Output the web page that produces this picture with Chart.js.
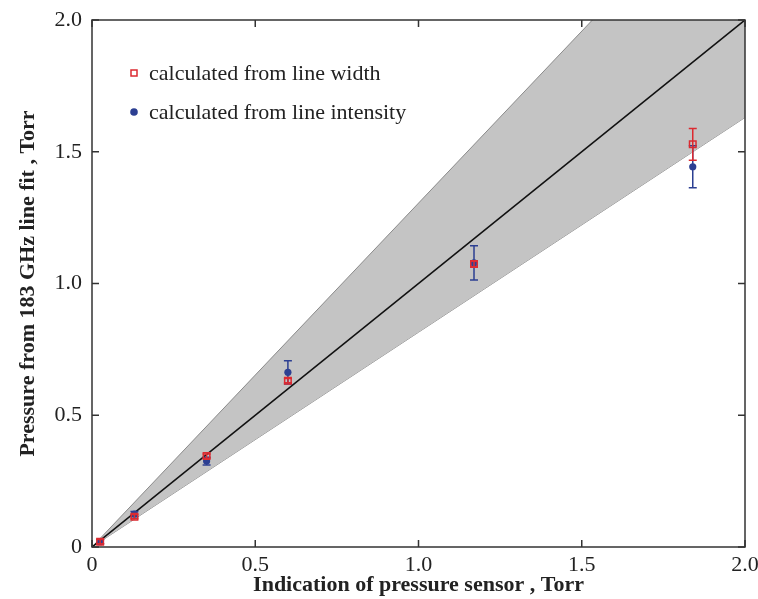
<!DOCTYPE html>
<html>
<head>
<meta charset="utf-8">
<script src="https://cdn.jsdelivr.net/npm/chart.js@4.4.0/dist/chart.umd.min.js"></script>
<style>
  html, body { margin: 0; padding: 0; background: #fff; }
  #wrap { width: 758px; height: 599px; }
</style>
</head>
<body>
<div id="wrap"><canvas id="c"></canvas></div>
<script>
// ── data
const sensor        = [0.025, 0.13, 0.351, 0.60, 1.17, 1.84];
const fromWidth     = [0.02, 0.115, 0.345, 0.631, 1.074, 1.528];
const widthErr      = [0.008, 0.008, 0.008, 0.008, 0.01, 0.06];
const fromIntensity = [0.02, 0.125, 0.326, 0.663, 1.078, 1.443];
const intensityErr  = [0.008, 0.01, 0.015, 0.044, 0.065, 0.08];

const bandX     = [0, 2];
const bandUpper = [0, 2.61];
const bandLower = [0, 1.63];
const diagonal  = [0, 2];

const axisTicks = [0, 0.5, 1.0, 1.5, 2.0];

const RED  = '#dc2a30';
const BLUE = '#2c3f92';
const SERIF = "'Liberation Serif', 'DejaVu Serif', serif";

const pts = (xs, ys) => xs.map((x, i) => ({ x, y: ys[i] }));

// ── error bars, drawn just before their own dataset
const errBars = {
  id: 'errBars',
  beforeDatasetDraw(chart, args) {
    const ds = chart.data.datasets[args.index];
    if (!ds.errors) return;
    const { ctx, scales: { x, y } } = chart;
    ctx.save();
    ctx.strokeStyle = ds.borderColor;
    ctx.lineWidth = 1.5;
    ds.data.forEach((p, i) => {
      const e = ds.errors[i];
      const px = x.getPixelForValue(p.x);
      const top = y.getPixelForValue(p.y + e);
      const bot = y.getPixelForValue(p.y - e);
      ctx.beginPath();
      ctx.moveTo(px, top); ctx.lineTo(px, bot);
      ctx.moveTo(px - 4, top); ctx.lineTo(px + 4, top);
      ctx.moveTo(px - 4, bot); ctx.lineTo(px + 4, bot);
      ctx.stroke();
    });
    ctx.restore();
  }
};

// ── frame with inward ticks + legend inside the plot
const frame = {
  id: 'frame',
  afterDraw(chart) {
    const { ctx, chartArea: a, scales: { x, y } } = chart;
    ctx.save();
    ctx.strokeStyle = '#333';
    ctx.lineWidth = 1.5;
    ctx.strokeRect(a.left, a.top, a.right - a.left, a.bottom - a.top);
    ctx.beginPath();
    axisTicks.forEach(v => {
      const px = x.getPixelForValue(v);
      const py = y.getPixelForValue(v);
      ctx.moveTo(px, a.bottom); ctx.lineTo(px, a.bottom - 7);
      ctx.moveTo(px, a.top);    ctx.lineTo(px, a.top + 7);
      ctx.moveTo(a.left, py);   ctx.lineTo(a.left + 7, py);
      ctx.moveTo(a.right, py);  ctx.lineTo(a.right - 7, py);
    });
    ctx.stroke();

    // legend
    const items = [chart.data.datasets[0], chart.data.datasets[1]];
    const lx = 134, ly = [73, 112];
    ctx.font = '22px ' + SERIF;
    ctx.textBaseline = 'middle';
    items.forEach((ds, i) => {
      if (ds.pointStyle === 'rect') {
        ctx.strokeStyle = RED; ctx.lineWidth = 1.5;
        ctx.strokeRect(lx - 3, ly[i] - 3, 6, 6);
      } else {
        ctx.fillStyle = BLUE;
        ctx.beginPath(); ctx.arc(lx, ly[i], 3.8, 0, Math.PI * 2); ctx.fill();
      }
      ctx.fillStyle = '#222';
      ctx.fillText(ds.label, lx + 15, ly[i] + 1);
    });
    ctx.restore();
  }
};

const tickFmt = v => v === 0 ? '0' : v.toFixed(1);

new Chart(document.getElementById('c'), {
  type: 'scatter',
  data: {
    datasets: [
      {
        label: 'calculated from line width',
        data: pts(sensor, fromWidth),
        errors: widthErr,
        pointStyle: 'rect',
        pointRadius: 4.6,
        borderColor: RED,
        backgroundColor: 'rgba(0,0,0,0)',
        borderWidth: 1.5,
        order: 0,
      },
      {
        label: 'calculated from line intensity',
        data: pts(sensor, fromIntensity),
        errors: intensityErr,
        pointStyle: 'circle',
        pointRadius: 3.6,
        borderColor: BLUE,
        backgroundColor: BLUE,
        borderWidth: 0,
        order: 1,
      },
      {
        type: 'line',
        data: pts(bandX, diagonal),
        borderColor: '#111',
        borderWidth: 1.6,
        pointRadius: 0,
        fill: false,
        order: 2,
      },
      {
        type: 'line',
        data: pts(bandX, bandUpper),
        borderColor: '#8a8a8a',
        borderWidth: 1,
        pointRadius: 0,
        fill: '+1',
        backgroundColor: '#c4c4c4',
        order: 3,
      },
      {
        type: 'line',
        data: pts(bandX, bandLower),
        borderColor: '#8a8a8a',
        borderWidth: 1,
        pointRadius: 0,
        fill: false,
        order: 4,
      },
    ]
  },
  options: {
    responsive: true,
    maintainAspectRatio: false,
    animation: false,
    layout: { padding: { top: 20, right: 13, left: 0, bottom: 0 } },
    plugins: {
      legend: { display: false },
      tooltip: { enabled: false },
    },
    scales: {
      x: {
        type: 'linear', min: 0, max: 2,
        afterFit: s => { s.height = 52; s.paddingLeft = 0; s.paddingRight = 0; },
        afterBuildTicks: s => { s.ticks = axisTicks.map(value => ({ value })); },
        grid: { display: false, drawTicks: false },
        border: { display: false },
        ticks: { color: '#222', padding: 5, maxRotation: 0, font: { family: SERIF, size: 22 }, callback: tickFmt },
        title: {
          display: true, text: 'Indication of pressure sensor , Torr', color: '#222',
          font: { family: SERIF, size: 22, weight: 'bold' }, padding: { top: 0, bottom: 0 },
        },
      },
      y: {
        type: 'linear', min: 0, max: 2,
        afterFit: s => { s.width = 92; s.paddingTop = 0; s.paddingBottom = 0; },
        afterBuildTicks: s => { s.ticks = axisTicks.map(value => ({ value })); },
        grid: { display: false, drawTicks: false },
        border: { display: false },
        ticks: { color: '#222', padding: 10, font: { family: SERIF, size: 22 }, callback: tickFmt },
        title: {
          display: true, text: 'Pressure from 183 GHz line fit , Torr', color: '#222',
          font: { family: SERIF, size: 22, weight: 'bold' }, padding: { top: 15, bottom: 0 },
        },
      },
    },
  },
  plugins: [errBars, frame],
});
</script>
</body>
</html>
